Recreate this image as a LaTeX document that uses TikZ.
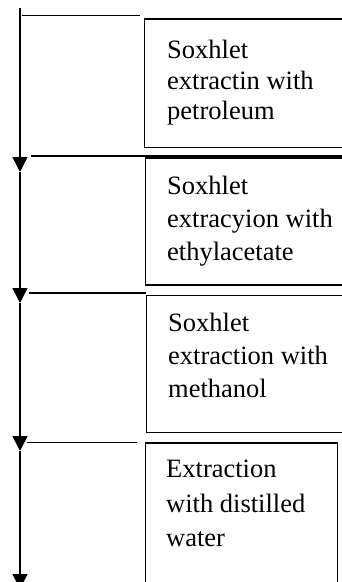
\documentclass[tikz,border=0pt]{standalone}
\usepackage{fontspec}
\setmainfont{Liberation Serif}
\usetikzlibrary{arrows.meta}
\begin{document}
\begin{tikzpicture}[x=1pt,y=-1pt,
  flow/.style={line width=1.6pt, -{Triangle[width=15pt,length=15pt]}},
  rulerline/.style={line width=1.6pt},
  stepbox/.style={draw, line width=1.4pt, rectangle, anchor=north west, inner sep=0pt},
  steptext/.style={anchor=north west, inner sep=0pt, align=left}]
\clip (0,0) rectangle (342,582);
\useasboundingbox (0,0) rectangle (342,582);
% boxes
\node[stepbox, minimum width=206pt, minimum height=128.4pt] (b1) at (144,18.3) {};
\node[stepbox, minimum width=205pt, minimum height=127pt] (b2) at (145,157.3) {};
\node[stepbox, minimum width=204pt, minimum height=137pt] (b3) at (146,295) {};
\node[stepbox, minimum width=192pt, minimum height=150pt] (b4) at (145,442.3) {};
% texts
\node[steptext, font=\fontsize{26.5}{30.5}\selectfont] (t1) at (167,40) {Soxhlet\\extractin with\\petroleum};
\node[steptext, font=\fontsize{26.5}{33}\selectfont] (t2) at (167,176) {Soxhlet\\extracyion with\\ethylacetate};
\node[steptext, font=\fontsize{26.5}{33}\selectfont] (t3) at (168,313) {Soxhlet\\extraction with\\methanol};
\node[steptext, font=\fontsize{26.5}{34.5}\selectfont] (t4) at (166,460) {Extraction\\with distilled\\water};
% vertical flow
\coordinate (v0) at (20,8.3);
\coordinate (a1) at (20,172);
\coordinate (a2) at (20,303);
\coordinate (a3) at (20,451);
\coordinate (a4) at (20,589);
\draw[flow] (v0) -- (a1);
\draw[flow] (a1) -- (a2);
\draw[flow] (a2) -- (a3);
\draw[flow] (a3) -- (a4);
% horizontal rules
\coordinate (h1s) at (22,15.3);
\coordinate (h1e) at (140,15.3);
\coordinate (h2s) at (31,156);
\coordinate (h2e) at (350,156);
\coordinate (h3s) at (29,292.7);
\coordinate (h3e) at (146,292.7);
\coordinate (h4s) at (27,442.3);
\coordinate (h4e) at (137,442.3);
\draw[rulerline] (h1s) -- (h1e);
\draw[rulerline] (h2s) -- (h2e);
\draw[rulerline] (h3s) -- (h3e);
\draw[rulerline] (h4s) -- (h4e);
\end{tikzpicture}
\end{document}
